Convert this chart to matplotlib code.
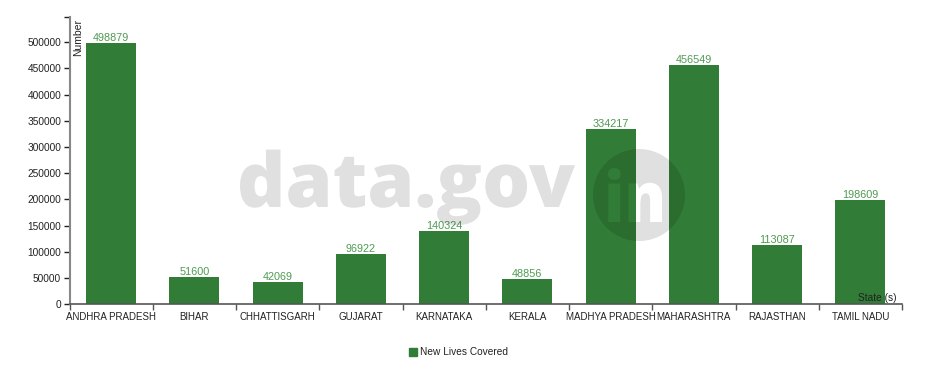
import numpy as np
import matplotlib
matplotlib.use('Agg')
import matplotlib.pyplot as plt
from matplotlib.path import Path
from matplotlib.patches import PathPatch, Rectangle
from matplotlib.textpath import TextPath
from matplotlib.font_manager import FontProperties

# Dati
states = ['ANDHRA PRADESH', 'BIHAR', 'CHHATTISGARH', 'GUJARAT', 'KARNATAKA',
          'KERALA', 'MADHYA PRADESH', 'MAHARASHTRA', 'RAJASTHAN', 'TAMIL NADU']
new_lives = [498879, 51600, 42069, 96922, 140324, 48856, 334217, 456549, 113087, 198609]
y_ticks = list(range(0, 500001, 50000))

plt.rcParams['font.family'] = ['Liberation Sans', 'DejaVu Sans']

W, H = 926, 378
fig = plt.figure(figsize=(W / 100, H / 100), dpi=100)

# assi in pixel
x0, x1, y0, y1 = 69.5, 902, 304.3, 16.7
ax = fig.add_axes([x0 / W, 1 - y0 / H, (x1 - x0) / W, (y0 - y1) / H])

bar_col = '#317c36'
lab_col = '#4e9a52'
n = len(states)
pos = np.arange(n) + 0.5
ax.bar(pos, new_lives, width=0.6, color=bar_col, zorder=2)
for p, v in zip(pos, new_lives):
    ax.text(p, v, str(v), ha='center', va='bottom', fontsize=7.8, color=lab_col)

ymax = max(new_lives) * 1.1
ax.set_xlim(0, n)
ax.set_ylim(0, ymax)

# asse y
ax.set_yticks(y_ticks + [ymax])
ax.set_yticklabels([str(t) for t in y_ticks] + [''])
ax.tick_params(axis='y', length=4, width=1, pad=2, labelsize=7.3, colors='#222222')

# asse x: tacche ai bordi, etichette al centro
ax.set_xticks(np.arange(n + 1))
ax.set_xticklabels([''] * (n + 1))
ax.set_xticks(pos, minor=True)
ax.set_xticklabels(states, minor=True)
ax.tick_params(axis='x', which='major', length=4, width=1, color='#555555')
ax.tick_params(axis='x', which='minor', length=0, pad=5.5, labelsize=7.05, labelcolor='#222222')

for s in ['top', 'right']:
    ax.spines[s].set_visible(False)
ax.spines['left'].set_color('#888888')
ax.spines['left'].set_linewidth(1.5)
ax.spines['bottom'].set_color('#555555')
ax.spines['bottom'].set_linewidth(1.2)

fig.text(78.5 / W, 1 - 19 / H, 'Number', rotation=90, ha='center', va='top',
         fontsize=7.5, color='#222222')
fig.text(897 / W, 1 - 301 / H, 'State (s)', ha='right', va='baseline',
         fontsize=7.3, color='#222222')

# legenda
fig.patches.append(Rectangle((409 / W, 1 - 356 / H), 8 / W, 8 / H,
                             transform=fig.transFigure, color=bar_col))
fig.text(420 / W, 1 - 352 / H, 'New Lives Covered', ha='left', va='center',
         fontsize=7.3, color='#222222')

# filigrana data.gov.in
ov = fig.add_axes([0, 0, 1, 1], zorder=5)
ov.set_xlim(0, W)
ov.set_ylim(0, H)
ov.axis('off')
ov.patch.set_alpha(0)
wm = (0, 0, 0, 0.12)
fp = FontProperties(family='Open Sans', weight=800)
tp = TextPath((0, 0), 'data.gov', size=100, prop=fp)
ext = tp.get_extents()
sc = (575 - 240) / ext.width
v = tp.vertices.copy()
v[:, 0] = 240 + (v[:, 0] - ext.x0) * sc
v[:, 1] = (H - 207) + v[:, 1] * sc
ov.add_patch(PathPatch(Path(v, tp.codes), fc=wm, ec='none'))

# cerchio con "in" ritagliato
ti = TextPath((0, 0), 'in', size=100, prop=fp)
e2 = ti.get_extents()
sx = (662 - 608) / e2.width
sy = (222 - 168) / e2.height
vi = ti.vertices.copy()
vi[:, 0] = 608 + (vi[:, 0] - e2.x0) * sx
vi[:, 1] = (H - 222) + (vi[:, 1] - e2.y0) * sy
tpath = Path(vi, ti.codes)

# orientamento del contorno del glifo, per ritagliare il cerchio
poly = tpath.to_polygons()[0]
area = 0.5 * np.sum(poly[:-1, 0] * poly[1:, 1] - poly[1:, 0] * poly[:-1, 1])
cx, cy, r = 639, H - 195, 46
t = np.linspace(0, 2 * np.pi, 200)
if area > 0:
    t = -t
cv = np.column_stack([cx + r * np.cos(t), cy + r * np.sin(t)])
cc = [Path.MOVETO] + [Path.LINETO] * (len(cv) - 2) + [Path.CLOSEPOLY]
comp = Path.make_compound_path(Path(cv, cc), tpath)
ov.add_patch(PathPatch(comp, fc=wm, ec='none'))

fig.savefig('out.png', dpi=100)
